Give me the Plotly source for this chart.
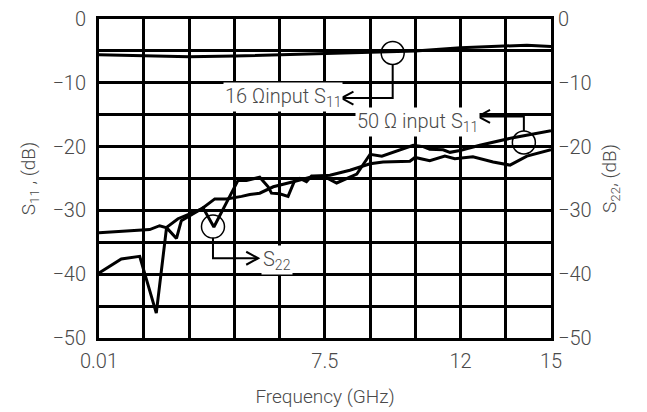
import plotly.graph_objects as go

# ---------------- data ----------------
x_16ohm = [0.01, 1.5, 3.0, 4.5, 6.0, 7.5, 9.0, 10.5, 12.0, 13.5, 14.2, 15.0]
s11_16ohm = [-5.6, -5.7, -5.9, -5.8, -5.6, -5.4, -5.3, -5.0, -4.5, -4.3, -4.1, -4.3]

x_50ohm = [0.01, 1.69, 2.02, 2.24, 2.63, 3.40, 3.85, 4.24, 4.74, 5.01, 5.34, 5.79,
           6.45, 7.11, 7.67, 8.33, 9.00, 9.43, 10.32, 10.49, 10.98, 11.48, 11.81,
           12.41, 13.08, 13.64, 14.20, 15.0]
s11_50ohm = [-33.5, -33.0, -32.4, -32.7, -31.3, -29.8, -28.2, -28.2, -27.8, -27.5, -27.3, -26.3,
             -25.5, -24.7, -24.5, -23.7, -22.7, -22.4, -22.3, -21.7, -22.2, -21.5, -21.9,
             -21.6, -22.4, -22.9, -21.5, -20.5]

x_s22 = [0.01, 0.75, 1.36, 1.91, 2.25, 2.58, 2.74, 3.10, 3.46, 3.82, 4.62, 4.90, 5.34,
         5.62, 5.73, 6.00, 6.28, 6.50, 6.67, 6.89, 7.06, 7.44, 7.89, 8.56, 9.00, 9.39,
         10.43, 10.76, 10.98, 11.42, 11.65, 11.98, 12.64, 13.74, 15.0]
s22 = [-39.8, -37.6, -37.2, -46.1, -32.7, -34.4, -31.6, -30.6, -29.6, -32.6, -25.3, -25.3, -24.8,
       -26.3, -27.3, -27.4, -27.8, -25.3, -25.0, -25.5, -24.6, -24.6, -25.7, -24.3, -21.2, -21.5,
       -19.8, -20.0, -20.4, -20.5, -20.9, -20.6, -19.8, -18.6, -17.5]

x_tickvals = [0.01, 7.5, 12.0, 15.0]
x_ticktext = ["0.01", "7.5", "12", "15"]
x_gridvals = [1.5, 3.0, 4.5, 6.0, 9.0, 10.5, 13.5]
y_tickvals = [0, -10, -20, -30, -40, -50]
y_ticktext = ["0", "\u221210", "\u221220", "\u221230", "\u221240", "\u221250"]
y_gridvals = [-5, -15, -25, -35, -45]

# annotation anchors (data units)
c16 = (9.75, -5.33)     # circle on 16 ohm curve
tip16 = (8.05, -12.4)   # arrow tip for 16 ohm label
c50 = (14.1, -19.36)
tip50 = (12.58, -15.28)
c22 = (3.79, -32.54)
tip22 = (5.29, -37.5)

# ---------------- figure ----------------
FONT = "Roboto"
TXT = "#4a4a4a"
PAGE = 8                      # default body margin of the html page
W, H = 647 - PAGE, 412 - PAGE
L, R, T, B = 99 - PAGE, 96, 19 - PAGE, 74
gx = 15.0 / (W - L - R)   # GHz per pixel
gy = 50.0 / (H - T - B)   # dB per pixel
rad = 11.5

fig = go.Figure()
line_style = dict(color="black", width=3)
fig.add_trace(go.Scatter(x=x_16ohm, y=s11_16ohm, mode="lines", line=line_style,
                         name="16 Ω input S11", showlegend=False))
fig.add_trace(go.Scatter(x=x_50ohm, y=s11_50ohm, mode="lines", line=line_style,
                         name="50 Ω input S11", showlegend=False))
fig.add_trace(go.Scatter(x=x_s22, y=s22, mode="lines", line=line_style,
                         name="S22", showlegend=False, yaxis="y2"))

shapes = []
lw = 2
# the -10 dB grid line is rendered light grey in the reference
shapes.append(dict(type="line", xref="paper", yref="y", x0=0, x1=1, y0=-10, y1=-10,
                   line=dict(color="white", width=3), layer="between"))
shapes.append(dict(type="line", xref="paper", yref="y", x0=0, x1=1, y0=-10, y1=-10,
                   line=dict(color="#8a8a8a", width=1.5), layer="between"))
for (cx, cy) in (c16, c50, c22):
    shapes.append(dict(type="circle", xref="x", yref="y", xsizemode="pixel", ysizemode="pixel",
                       xanchor=cx, yanchor=cy, x0=-rad, x1=rad, y0=-rad, y1=rad,
                       line=dict(color="black", width=1.5), layer="above"))
# leader lines (elbows)
shapes.append(dict(type="path", xref="x", yref="y", layer="above", line=dict(color="black", width=lw),
                   path=f"M {c16[0]},{c16[1]-rad*gy} L {c16[0]},{tip16[1]} L {tip16[0]},{tip16[1]}"))
shapes.append(dict(type="path", xref="x", yref="y", layer="above", line=dict(color="black", width=lw),
                   path=f"M {tip50[0]},{tip50[1]} L {c50[0]},{tip50[1]} L {c50[0]},{c50[1]+rad*gy}"))
shapes.append(dict(type="path", xref="x", yref="y", layer="above", line=dict(color="black", width=lw),
                   path=f"M {c22[0]},{c22[1]-rad*gy} L {c22[0]},{tip22[1]} L {tip22[0]},{tip22[1]}"))
# chevron arrowheads
ax_, ay_ = 12 * gx, 6.5 * gy
for (tx, ty), d in ((tip16, 1), (tip50, 1), (tip22, -1)):
    shapes.append(dict(type="path", xref="x", yref="y", layer="above",
                       line=dict(color="black", width=lw),
                       path=f"M {tx + d*ax_},{ty + ay_} L {tx},{ty} L {tx + d*ax_},{ty - ay_}"))

afont = dict(family=FONT, size=20, color=TXT, weight=300)
annotations = [
    dict(x=tip16[0] + 0.05, y=tip16[1] + 0.1, xref="x", yref="y", xanchor="right", yanchor="middle",
         text="16 \u03a9input S<sub>11</sub>", showarrow=False, font=afont, bgcolor="white", borderpad=1),
    dict(x=tip50[0] + 0.05, y=tip50[1] - 0.8, xref="x", yref="y", xanchor="right", yanchor="middle",
         text="50 \u03a9 input S<sub>11</sub>", showarrow=False, font=afont, bgcolor="white", borderpad=1),
    dict(x=tip22[0] + 0.1, y=tip22[1] - 0.2, xref="x", yref="y", xanchor="left", yanchor="middle",
         text="S<sub>22</sub>", showarrow=False, font=afont, bgcolor="white", borderpad=1),
]

tfont = dict(family=FONT, size=20, color=TXT, weight=300)
titlefont = dict(family=FONT, size=19, color=TXT, weight=300)
grid = dict(showgrid=True, gridcolor="black", gridwidth=2.5)
fig.update_layout(
    width=W, height=H,
    margin=dict(l=L, r=R, t=T, b=B, autoexpand=False),
    paper_bgcolor="white", plot_bgcolor="white",
    showlegend=False,
    shapes=shapes, annotations=annotations,
    xaxis=dict(range=[0.01, 15], tickmode="array", tickvals=x_tickvals, ticktext=x_ticktext,
               minor=dict(tickmode="array", tickvals=x_gridvals, ticks="", **grid),
               zeroline=False, **grid,
               showline=True, linecolor="black", linewidth=3, mirror=True, ticks="",
               tickfont=tfont, ticklabelstandoff=3, automargin=False, ticklabeloverflow="allow",
               title=dict(text="Frequency (GHz)", font=titlefont, standoff=18)),
    yaxis=dict(range=[-50, 0], tickmode="array", tickvals=y_tickvals, ticktext=y_ticktext,
               minor=dict(tickmode="array", tickvals=y_gridvals, ticks="", **grid),
               zeroline=False, **grid,
               showline=True, linecolor="black", linewidth=3, mirror=True, ticks="",
               tickfont=tfont, ticklabelstandoff=6, automargin=False, ticklabeloverflow="allow",
               title=dict(text="S<sub>11</sub> , (dB)", font=titlefont, standoff=12)),
    yaxis2=dict(range=[-50, 0], overlaying="y", side="right", tickmode="array",
                tickvals=y_tickvals, ticktext=y_ticktext, showgrid=False, zeroline=False,
                showline=False, ticks="", tickfont=tfont, ticklabelstandoff=6, automargin=False,
                ticklabeloverflow="allow",
                title=dict(text="S<sub>22</sub>, (dB)", font=titlefont, standoff=12)),
)

fig.write_html("out.html")
